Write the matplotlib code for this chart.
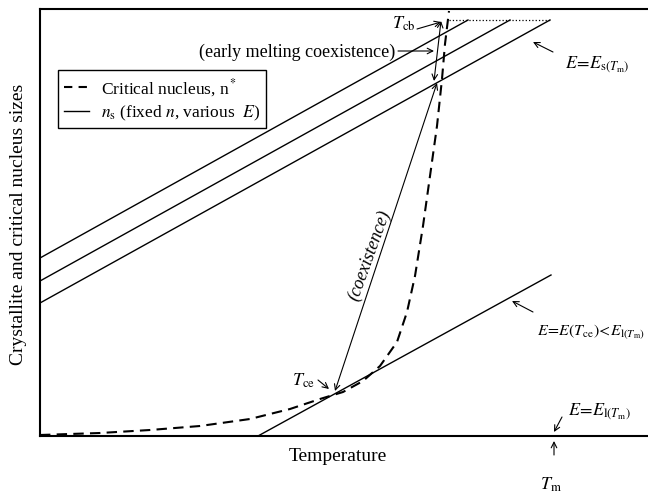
import matplotlib
matplotlib.use("Agg")
import matplotlib.pyplot as plt
from matplotlib.lines import Line2D

plt.rcParams['font.family'] = ['Liberation Serif', 'DejaVu Serif']
plt.rcParams['mathtext.fontset'] = 'stix'

# n_s lines (fixed n, various E): start / end points in arbitrary units
ns_x0 = [0, 0, 0, 218]
ns_y0 = [178, 155, 133, 0]
ns_x1 = [428, 470, 510, 511]
ns_y1 = [416, 416, 416, 161]

# critical nucleus n* curve
crit_T = [0, 60, 110, 160, 210, 250, 280, 303, 323, 340, 357, 367, 375, 383, 390, 397, 402, 405, 409]
crit_n = [1, 3, 6, 10, 17, 27, 37, 44, 55, 70, 94, 124, 160, 210, 260, 310, 357, 392, 425]

# dotted cap at the top
cap_T = [409, 510]
cap_n = [416, 416]

fig = plt.figure(figsize=(6.48, 5.02), dpi=100)
ax = fig.add_axes([40 / 648, 65 / 502, 608 / 648, 427 / 502])

for x0, y0, x1, y1 in zip(ns_x0, ns_y0, ns_x1, ns_y1):
    ax.plot([x0, x1], [y0, y1], color='black', lw=1.0)
ax.plot(crit_T, crit_n, color='black', lw=1.5, dashes=(5, 3))
ax.plot(cap_T, cap_n, color='black', lw=0.9, linestyle=':')

ax.set_xlim(0, 608)
ax.set_ylim(0, 427)
ax.set_xticks([])
ax.set_yticks([])
ax.spines['right'].set_visible(False)
for s in ['left', 'top', 'bottom']:
    ax.spines[s].set_linewidth(1.5)

ax.set_xlabel('Temperature', fontsize=14)
ax.xaxis.set_label_coords(0.49, -0.025, transform=ax.transAxes)
ax.xaxis.label.set_va('top')
ax.set_ylabel('Crystallite and critical nucleus sizes', fontsize=14)
ax.yaxis.set_label_coords(-0.021, 0.497)

handles = [Line2D([], [], color='black', lw=1.5, dashes=(4, 3)),
           Line2D([], [], color='black', lw=1.0)]
labels = [r'Critical nucleus, n$^*$', r'$n_\mathrm{s}$ (fixed $n$, various  $E$)']
leg = ax.legend(handles, labels, loc='upper left', bbox_to_anchor=(0.03, 0.857),
                borderaxespad=0, fontsize=12.5, frameon=True, fancybox=False,
                edgecolor='black', framealpha=1, handlelength=1.4, borderpad=0.35,
                labelspacing=0.3, handletextpad=0.7)
leg.get_frame().set_linewidth(1.0)

fs = 13
thin = dict(arrowstyle='->', color='black', lw=0.8, shrinkA=0, shrinkB=0)
both = dict(arrowstyle='<->', color='black', lw=0.8, shrinkA=0, shrinkB=0)

def arrow(x0, y0, x1, y1, props=thin):
    ax.annotate('', xy=(x1, y1), xytext=(x0, y0), arrowprops=props,
                annotation_clip=False)

# T_cb
ax.text(375, 413, r'$T_\mathrm{cb}$', fontsize=fs, ha='right', va='center')
arrow(377, 407, 401, 414)
# early melting coexistence
ax.text(355, 385, '(early melting coexistence)', fontsize=fs, ha='right', va='center')
arrow(358, 385, 394, 385)
arrow(401, 415, 394, 355, both)
# coexistence
arrow(397, 353, 295, 45, both)
ax.text(329, 182, '(coexistence)', fontsize=fs, style='italic', rotation=70,
        ha='center', va='center')
# T_ce
ax.text(275, 56, r'$T_\mathrm{ce}$', fontsize=fs, ha='right', va='center')
arrow(278, 56, 289, 47)
# E labels
ax.text(525, 372, r'$E\!=\!E_{\mathrm{s}(T_\mathrm{m})}$', fontsize=fs, ha='left', va='center')
arrow(513, 384, 493, 394)
ax.text(497, 105, r'$E\!=\!E(T_\mathrm{ce})\!<\!E_{\mathrm{l}(T_\mathrm{m})}$', fontsize=11.5,
        ha='left', va='center')
arrow(493, 124, 472, 135)
ax.text(528, 25, r'$E\!=\!E_{\mathrm{l}(T_\mathrm{m})}$', fontsize=fs, ha='left', va='center')
arrow(522, 19, 514, 4)
# T_m below the axis
arrow(514, -19, 514, -5)
ax.text(511, -48, r'$T_\mathrm{m}$', fontsize=fs, ha='center', va='center')

fig.savefig('out.png', dpi=100)
